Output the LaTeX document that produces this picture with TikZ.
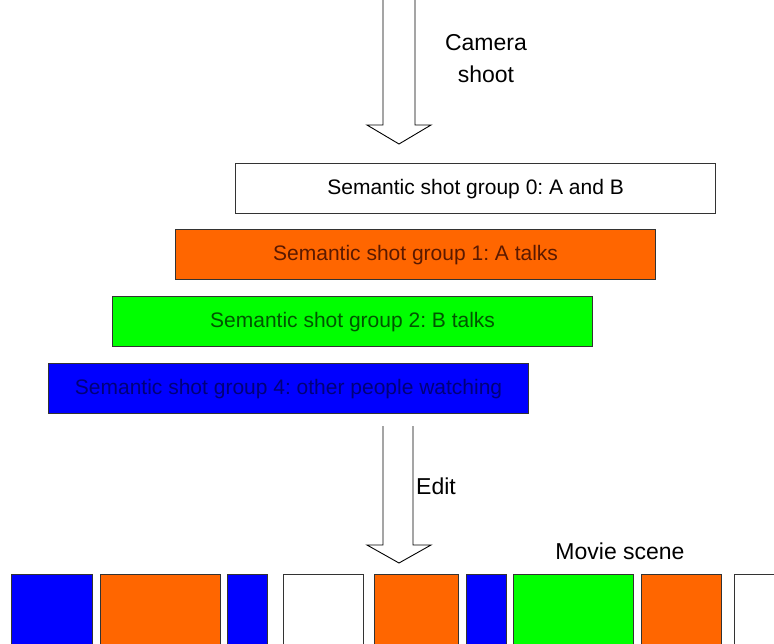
\documentclass[tikz,border=0pt]{standalone}
\usepackage{fontspec}
\setmainfont{Liberation Sans}
\frenchspacing
\begin{document}
\begin{tikzpicture}[x=1pt,y=-1pt,
  groupbox/.style={draw=black!80,line width=1.2pt,inner sep=0pt,
    minimum width=480pt,minimum height=50pt,anchor=north west,
    font=\fontsize{21}{24}\selectfont},
  shotbox/.style={draw=black!80,line width=1.2pt,inner sep=0pt,anchor=north west,minimum height=80pt},
  hollow/.style={draw=black,line width=0.9pt,fill=white,line join=miter},
  caption/.style={font=\fontsize{23}{32}\selectfont,inner sep=0pt}]
\definecolor{shotorange}{HTML}{FF6600}
\definecolor{shotgreen}{HTML}{00FF00}
\definecolor{shotblue}{HTML}{0000FF}
\path[clip] (0,0) rectangle (774,643);
\fill[white] (0,0) rectangle (774,643);

% camera shoot arrow, entering from the top edge
\draw[hollow] (383,-5) -- (383,125) -- (367,125) -- (399,144) -- (431,125) -- (415,125) -- (415,-5);
\node[caption,align=center,anchor=base] (cam) at (486,82) {Camera\\shoot};

% semantic shot groups
\node[groupbox,fill=white] (g0) at (235,163) {Semantic shot group 0: A and B};
\node[groupbox,fill=shotorange,text={rgb,255:red,90;green,25;blue,0}] (g1) at (175,229) {Semantic shot group 1: A talks};
\node[groupbox,fill=shotgreen,text={rgb,255:red,0;green,85;blue,0}] (g2) at (112,296) {Semantic shot group 2: B talks};
\node[groupbox,fill=shotblue,text={rgb,255:red,0;green,0;blue,120}] (g4) at (48,363) {Semantic shot group 4: other people watching};

% edit arrow
\coordinate (edittop) at (383,426);
\draw[hollow] (edittop) -- (383,545) -- (367,545) -- (399,563) -- (431,545) -- (413,545) -- (413,426);
\node[caption,anchor=base west] (edit) at (416,494) {Edit};
\node[caption,anchor=base] (movie) at (620,559) {Movie scene};

% edited movie scene: a sequence of shots
\node[shotbox,fill=shotblue,minimum width=81pt] (s1) at (11,574) {};
\node[shotbox,fill=shotorange,minimum width=120pt] (s2) at (100,574) {};
\node[shotbox,fill=shotblue,minimum width=40pt] (s3) at (227,574) {};
\node[shotbox,fill=white,minimum width=80pt] (s4) at (283,574) {};
\node[shotbox,fill=shotorange,minimum width=84pt] (s5) at (374,574) {};
\node[shotbox,fill=shotblue,minimum width=40pt] (s6) at (466,574) {};
\node[shotbox,fill=shotgreen,minimum width=120pt] (s7) at (513,574) {};
\node[shotbox,fill=shotorange,minimum width=80pt] (s8) at (641,574) {};
\node[shotbox,fill=white,minimum width=80pt] (s9) at (734,574) {};
\end{tikzpicture}
\end{document}
